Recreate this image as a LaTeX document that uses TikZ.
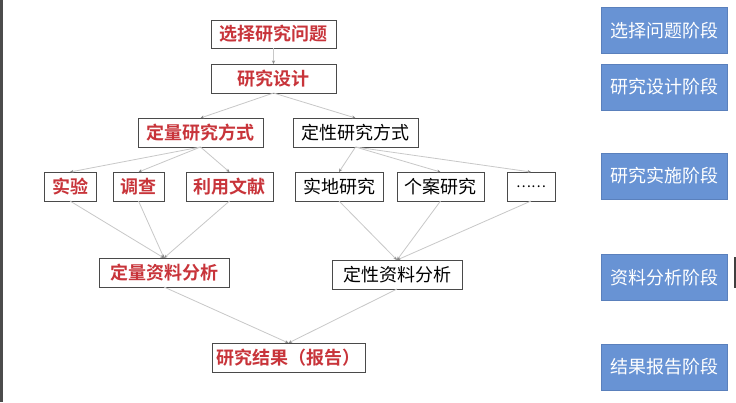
\documentclass[tikz,border=0pt]{standalone}
\usepackage{fontspec}
\newfontfamily\cjk{Noto Sans CJK SC}
\newfontfamily\cjkb{Noto Sans CJK SC Bold}
\usetikzlibrary{arrows.meta}
\definecolor{redtxt}{HTML}{C8343A}
\definecolor{bluebox}{HTML}{6893D4}
\definecolor{blueedge}{HTML}{5A80BC}
\definecolor{boxedge}{HTML}{4A4A4A}
\definecolor{linkc}{HTML}{C8C8C8}
\definecolor{tipc}{HTML}{8A8A8A}
\tikzset{
  every node/.style={inner sep=0pt, outer sep=0pt},
  flowbox/.style={draw=boxedge, line width=0.9pt, fill=white, minimum height=29pt, font=\cjk\fontsize{18}{18}\selectfont},
  redbox/.style={flowbox, text=redtxt, font=\cjkb\fontsize{18}{18}\selectfont},
  blackbox/.style={flowbox, text=black},
  stagebox/.style={draw=blueedge, line width=0.8pt, fill=bluebox, text=white, minimum width=126pt, minimum height=46pt, font=\cjk\fontsize{18}{18}\selectfont},
  link/.style={draw=linkc, line width=0.8pt, -{Stealth[length=3.5pt,width=3pt,color=tipc]}}
}
\begin{document}
\begin{tikzpicture}[x=1pt,y=-1pt]
\useasboundingbox (0,0) rectangle (736,402);
\fill[white] (0,0) rectangle (736,402);
% left edge line
\fill[black!70] (0,0) rectangle (2.5,402);
% right edge mark
\fill[black!75] (733.5,257) rectangle (736,288);

% flow nodes
\node[redbox, minimum width=125pt, minimum height=28pt] (q1) at (273.5,34) {选择研究问题};
\node[redbox, minimum width=125pt] (q2) at (273.5,78.5) {研究设计};
\node[redbox, minimum width=125pt] (m1) at (200.5,132.5) {定量研究方式};
\node[blackbox, minimum width=125pt] (m2) at (355.5,132.5) {定性研究方式};
\node[redbox, minimum width=52pt] (a1) at (70,186.5) {实验};
\node[redbox, minimum width=51pt] (a2) at (138.5,186.5) {调查};
\node[redbox, minimum width=87pt] (a3) at (229.5,186.5) {利用文献};
\node[blackbox, minimum width=88pt] (b1) at (339,186.5) {实地研究};
\node[blackbox, minimum width=87pt] (b2) at (440.5,186.5) {个案研究};
\node[blackbox, minimum width=48pt, font=\cjk\fontsize{14}{14}\selectfont] (b3) at (531,186.5) {……};
\node[redbox, minimum width=130pt] (d1) at (164,272.5) {定量资料分析};
\node[blackbox, minimum width=130pt] (d2) at (397,274.5) {定性资料分析};
\node[redbox, minimum width=153pt] (r) at (288.5,357.5) {研究结果（报告）};

% stage labels
\node[stagebox] (s1) at (664,30.5) {选择问题阶段};
\node[stagebox] (s2) at (664,87) {研究设计阶段};
\node[stagebox] (s3) at (664,176) {研究实施阶段};
\node[stagebox] (s4) at (664,277.5) {资料分析阶段};
\node[stagebox] (s5) at (664,367) {结果报告阶段};

% connectors
\draw[link] (q1.south) -- (q2.north);
\draw[link] (q2.south) -- (m1.north);
\draw[link] (q2.south) -- (m2.north);
\draw[link] (m1.south) -- (a1.north);
\draw[link] (m1.south) -- (a2.north);
\draw[link] (m1.south) -- (a3.north);
\draw[link] (m2.south) -- (b1.north);
\draw[link] (m2.south) -- (b2.north);
\draw[link] (m2.south) -- (b3.north);
\draw[link] (a1.south) -- (d1.north);
\draw[link] (a2.south) -- (d1.north);
\draw[link] (a3.south) -- (d1.north);
\draw[link] (b1.south) -- (d2.north);
\draw[link] (b2.south) -- (d2.north);
\draw[link] (b3.south) -- (d2.north);
\draw[link] (d1.south) -- (r.north);
\draw[link] (d2.south) -- (r.north);
\end{tikzpicture}
\end{document}
